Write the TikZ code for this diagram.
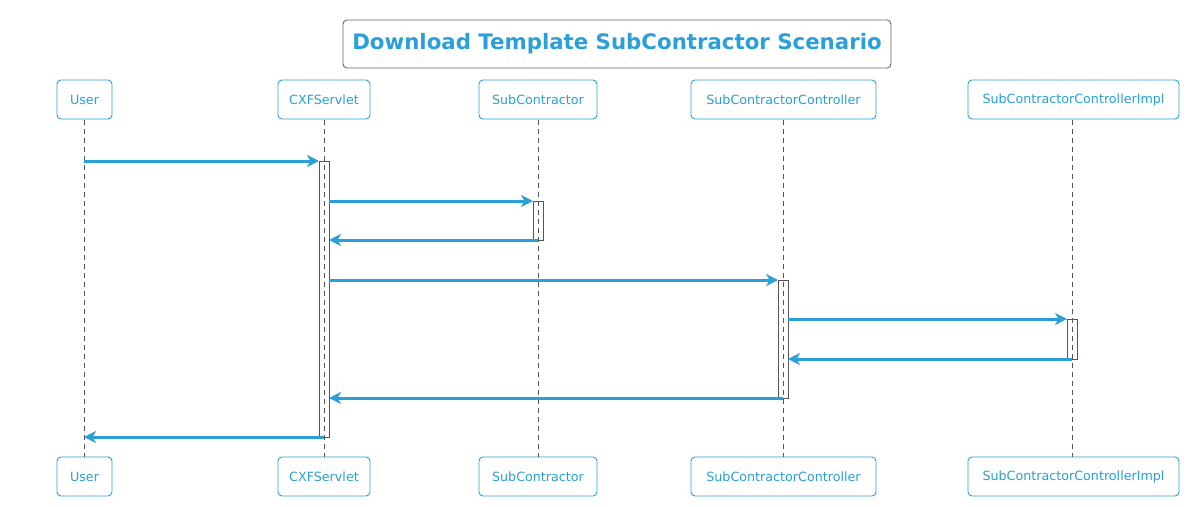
\documentclass[tikz,border=0pt]{standalone}
\usepackage{fontspec}
\setmainfont{DejaVu Sans}
\usetikzlibrary{arrows.meta}
\definecolor{cblue}{HTML}{2A9FD8}
\definecolor{cgrey}{HTML}{555555}
\definecolor{tgrey}{HTML}{666666}
\tikzset{
  part/.style={draw=cblue, line width=0.9pt, rounded corners=4pt, fill=white, text=cblue,
    font=\fontsize{12.7}{15}\selectfont, minimum height=39pt, inner xsep=6pt, anchor=center},
  life/.style={draw=cgrey, dashed, dash pattern=on 5pt off 4pt, line width=0.9pt},
  actbox/.style={draw=cgrey, line width=1pt, fill=none, minimum width=10pt, inner sep=0pt, outer sep=0pt},
  msg/.style={draw=cblue, line width=3pt, -{Stealth[length=12pt,width=12pt,inset=3.5pt]}},
}
\begin{document}
\begin{tikzpicture}[x=1pt,y=-1pt]
\useasboundingbox (0,0) rectangle (1188,506);
% title
\node[draw=tgrey, line width=0.9pt, rounded corners=4pt, minimum width=548pt, minimum height=48pt,
  text=cblue, font=\bfseries\fontsize{21.3}{25}\selectfont] (title) at (617,44) {Download Template SubContractor Scenario};
% participants
\foreach \n/\x/\w/\t in {u/84.5/55/User, c/324/92/CXFServlet, s/538/118/SubContractor, k/783.5/185/SubContractorController, i/1073.5/211/SubContractorControllerImpl}{
  \node[part, minimum width=\w pt] (\n top) at (\x,99.5) {\t};
  \node[part, minimum width=\w pt] (\n bot) at (\x,476.5) {\t};
}
% lifelines
\foreach \n/\x in {u/84, c/324, s/538, k/783, i/1072}{
  \draw[life] (\x,119.5) -- (\x,456.5);
}
% activations
\node[actbox, minimum height=276pt] (ac) at (324,299) {};
\node[actbox, minimum height=39pt] (as) at (538,220.5) {};
\node[actbox, minimum height=118pt] (ak) at (783,339) {};
\node[actbox, minimum height=40pt] (ai) at (1072,339) {};
% message endpoints
\coordinate (u1) at (84,161);
\coordinate (c2) at (329,201);
\coordinate (s3) at (538,240);
\coordinate (c4) at (329,280);
\coordinate (k5) at (788,319);
\coordinate (i6) at (1072,359);
\coordinate (k7) at (783,398);
\coordinate (u8) at (84,437);
\coordinate (c8) at (324,437);
% messages
\draw[msg] (u1) -- (ac.west |- u1);
\draw[msg] (c2) -- (as.west |- c2);
\draw[msg] (s3) -- (ac.east |- s3);
\draw[msg] (c4) -- (ak.west |- c4);
\draw[msg] (k5) -- (ai.west |- k5);
\draw[msg] (i6) -- (ak.east |- i6);
\draw[msg] (k7) -- (ac.east |- k7);
\draw[msg] (c8) -- (u8);
\end{tikzpicture}
\end{document}
